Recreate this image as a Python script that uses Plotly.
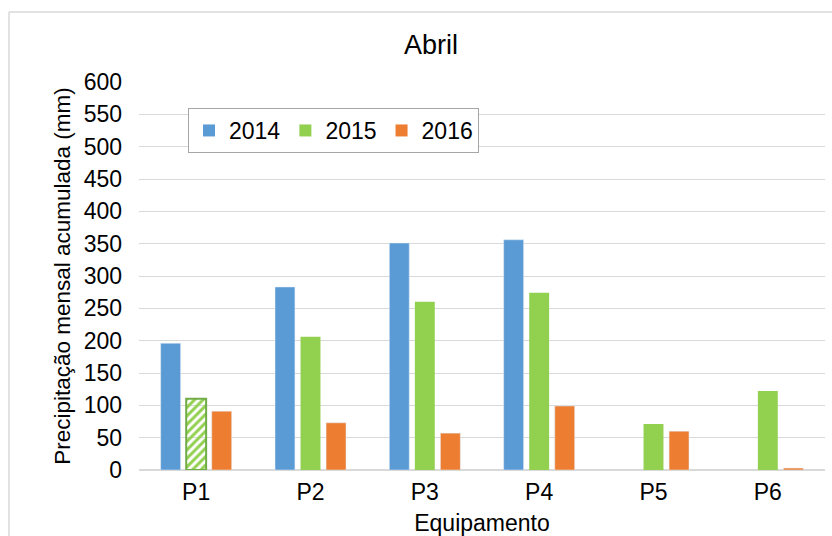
import plotly.graph_objects as go

categories = ["P1", "P2", "P3", "P4", "P5", "P6"]
v2014 = [196, 283, 351, 356, None, None]
v2015 = [110, 206, 260, 274, 71, 122]
v2016 = [91, 73, 57, 99, 60, 3]
hatch_2015 = ["/", "", "", "", "", ""]
yticks = list(range(0, 601, 50))

blue = "#5b9bd5"
green = "#92d050"
dkgreen = "#70ad47"
orange = "#ed7d31"
font = "Liberation Sans, Arial, sans-serif"

fig = go.Figure()
fig.add_trace(go.Bar(x=categories, y=v2014, name="2014", marker=dict(color=blue), showlegend=False))
fig.add_trace(go.Bar(x=categories, y=v2015, name="2015",
                     marker=dict(color=green,
                                 line=dict(color=dkgreen, width=[2, 0, 0, 0, 0, 0]),
                                 pattern=dict(shape=hatch_2015, size=6, solidity=0.5, fillmode="replace")),
                     showlegend=False))
fig.add_trace(go.Bar(x=categories, y=v2016, name="2016", marker=dict(color=orange), showlegend=False))
# legend entries
for name, col in [("2014", blue), ("2015", green), ("2016", orange)]:
    fig.add_trace(go.Scatter(x=[None], y=[None], name=name, mode="markers",
                             marker=dict(color=col, symbol="square", size=12), showlegend=True))

W, H = 832, 536
L, R, T, B = 139, 7, 82, 66
pw, ph = W - L - R, H - T - B

def px(x):
    return (x - L) / pw

def py(y):
    return (H - B - y) / ph

fig.update_layout(
    width=W, height=H,
    margin=dict(l=L, r=R, t=T, b=B, autoexpand=False),
    paper_bgcolor="white", plot_bgcolor="white",
    font=dict(family=font, size=23, color="#000000"),
    barmode="group", bargap=0.33, bargroupgap=0.22,
    title=dict(text="Abril", x=431 / W, xref="container", xanchor="center",
               y=1 - 45 / H, yref="container", yanchor="middle",
               font=dict(size=27, color="#000000", family=font)),
    legend=dict(orientation="h", x=px(188), xanchor="left", y=py(108), yanchor="top",
                bordercolor="#a6a6a6", borderwidth=1, bgcolor="white",
                font=dict(size=23, family=font, color="#000000"),
                itemwidth=30, traceorder="normal"),
    xaxis=dict(showgrid=False, showline=False, ticks="", ticklabelstandoff=6,
               title=dict(text="Equipamento", standoff=10, font=dict(size=23))),
    yaxis=dict(range=[0, 600], tickvals=yticks, showgrid=True, gridcolor="#d9d9d9", gridwidth=1,
               zeroline=True, zerolinecolor="#d9d9d9", showline=False, ticks="",
               ticklabelstandoff=16,
               title=dict(text="Precipitação mensal acumulada (mm)", standoff=6, font=dict(size=22.5))),
    shapes=[
        dict(type="line", xref="paper", yref="paper", x0=px(9), x1=px(W + 5), y0=py(12), y1=py(12),
             line=dict(color="#d9d9d9", width=1.5)),
        dict(type="line", xref="paper", yref="paper", x0=px(9), x1=px(9), y0=py(12), y1=py(H + 5),
             line=dict(color="#d9d9d9", width=1.5)),
    ],
)

fig.write_html("out.html", config={"displayModeBar": False})
with open("out.html", encoding="utf-8") as f:
    html = f.read()
html = html.replace("<body>", '<body style="margin:0;overflow:hidden">', 1)
with open("out.html", "w", encoding="utf-8") as f:
    f.write(html)
